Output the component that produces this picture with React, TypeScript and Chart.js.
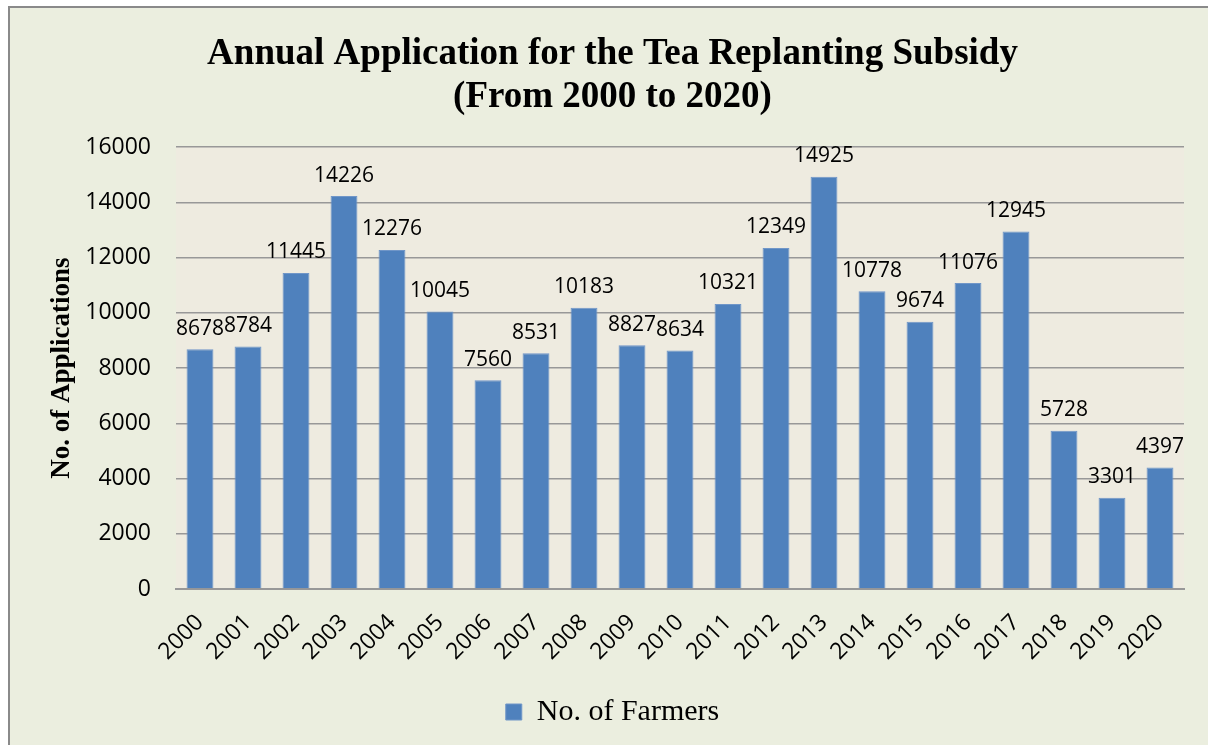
import React, { useEffect, useRef } from "react";
import { Chart, registerables } from "chart.js";

Chart.register(...registerables);

const years = ["2000","2001","2002","2003","2004","2005","2006","2007","2008","2009","2010","2011","2012","2013","2014","2015","2016","2017","2018","2019","2020"];
const applications = [8678,8784,11445,14226,12276,10045,7560,8531,10183,8827,8634,10321,12349,14925,10778,9674,11076,12945,5728,3301,4397];
const seriesName = "No. of Farmers";
const titleLines = ["Annual Application for the Tea Replanting Subsidy", "(From 2000 to 2020)"];
const yTitle = "No. of Applications";
const yMin = 0;
const yMax = 16000;
const yStep = 2000;

const W = 1208;
const H = 745;
const PAD_LEFT = 17;
const PLOT_LEFT = 176;
const PLOT_RIGHT = 1184;
const PLOT_BOTTOM = 589;
const LEGEND_TOP = 687;

const bgPlugin = {
  id: "bgPlugin",
  beforeDraw(chart: any) {
    const { ctx, chartArea } = chart;
    ctx.save();
    ctx.fillStyle = "#ffffff";
    ctx.fillRect(0, 0, W, H);
    ctx.fillStyle = "#EBEEDF";
    ctx.fillRect(9, 7, W - 9, H - 7);
    ctx.strokeStyle = "#8a8a8a";
    ctx.lineWidth = 2;
    ctx.strokeRect(9, 7, W + 10, H + 10);
    ctx.fillStyle = "#EEEBE0";
    ctx.fillRect(chartArea.left, chartArea.top, chartArea.right - chartArea.left, chartArea.bottom - chartArea.top);
    ctx.restore();
  },
};

const labelPlugin = {
  id: "labelPlugin",
  afterDatasetsDraw(chart: any) {
    const { ctx } = chart;
    const meta = chart.getDatasetMeta(0);
    const data = chart.data.datasets[0].data as number[];
    ctx.save();
    ctx.font = '21px "Open Sans"';
    ctx.fillStyle = "#000000";
    ctx.textAlign = "center";
    ctx.textBaseline = "bottom";
    meta.data.forEach((bar: any, i: number) => {
      ctx.fillText(String(data[i]), bar.x, bar.y - 10);
    });
    ctx.restore();
  },
};

export default function App() {
  const ref = useRef<HTMLCanvasElement | null>(null);
  useEffect(() => {
    if (!ref.current) return;
    const chart = new Chart(ref.current, {
      type: "bar",
      data: {
        labels: years,
        datasets: [
          {
            label: seriesName,
            data: applications,
            backgroundColor: "#4F81BD",
            borderColor: "#7096C8",
            borderWidth: 1,
            barPercentage: 0.56,
            categoryPercentage: 1,
          },
        ],
      },
      options: {
        responsive: false,
        animation: false,
        devicePixelRatio: 1,
        layout: { padding: { left: PAD_LEFT, right: 0, top: 0, bottom: 8 } },
        plugins: {
          title: {
            display: true,
            text: titleLines,
            color: "#000000",
            font: { family: '"Liberation Serif", "Times New Roman", serif', size: 37, weight: "bold", lineHeight: 1.17 },
            padding: { top: 32.5, bottom: 28 },
          },
          legend: {
            display: true,
            position: "bottom",
            labels: {
              color: "#000000",
              font: { family: '"Liberation Serif", "Times New Roman", serif', size: 30 },
              boxWidth: 16,
              boxHeight: 16,
              padding: 10,
            },
          },
          tooltip: { enabled: false },
        },
        scales: {
          x: {
            grid: { display: false },
            border: { display: true, color: "#989898", width: 2 },
            ticks: {
              color: "#000000",
              font: { family: '"Open Sans"', size: 23 },
              maxRotation: 45,
              minRotation: 45,
              padding: 12,
              autoSkip: false,
            },
            afterFit(scale: any) {
              scale.height = LEGEND_TOP - PLOT_BOTTOM;
            },
          },
          y: {
            min: yMin,
            max: yMax,
            grid: { color: "#989898", lineWidth: 1.5, drawTicks: false },
            border: { display: false },
            ticks: {
              stepSize: yStep,
              color: "#000000",
              font: { family: '"Open Sans"', size: 23 },
              padding: 25,
              callback: (v: any) => String(v),
            },
            title: {
              display: true,
              text: yTitle,
              color: "#000000",
              font: { family: '"Liberation Serif", "Times New Roman", serif', size: 27, weight: "bold", lineHeight: 1.2 },
              padding: { top: 28.8, bottom: 0 },
            },
            afterFit(scale: any) {
              scale.width = PLOT_LEFT - PAD_LEFT;
            },
          },
          yRight: {
            position: "right",
            display: true,
            grid: { display: false },
            border: { display: false },
            ticks: { display: false },
            afterFit(scale: any) {
              scale.width = W - PLOT_RIGHT;
            },
          },
        },
      },
      plugins: [bgPlugin, labelPlugin],
    });
    return () => chart.destroy();
  }, []);
  return (
    <div style={{ position: "fixed", left: 0, top: 0, width: W, height: H }}>
      <canvas ref={ref} width={W} height={H} style={{ display: "block" }} />
    </div>
  );
}
